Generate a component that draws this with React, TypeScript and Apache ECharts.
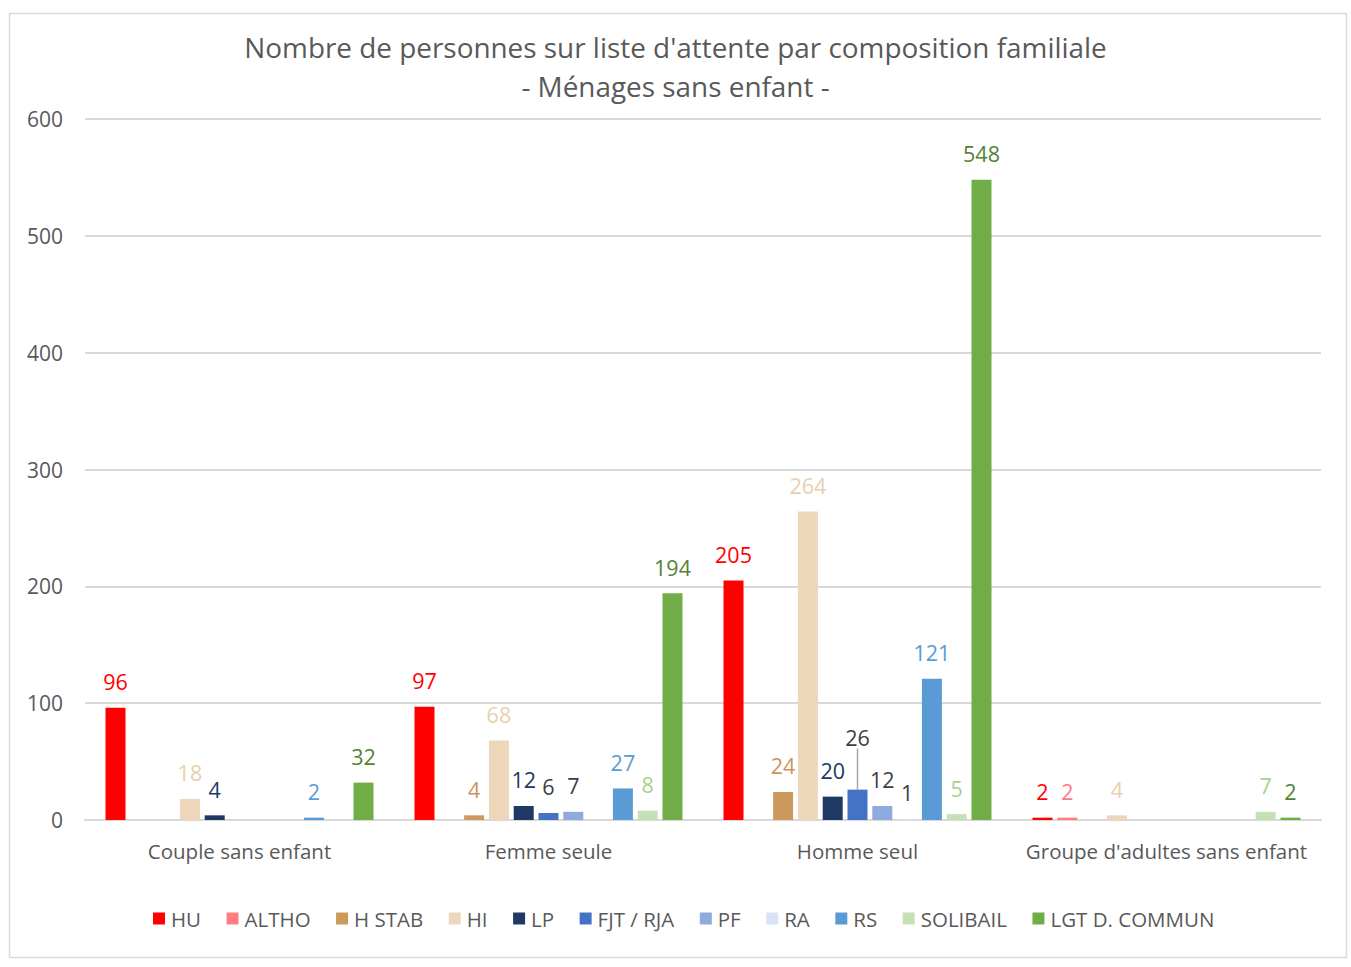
import React, { useEffect, useRef } from "react";
import * as echarts from "echarts";

const categories = ["Couple sans enfant", "Femme seule", "Homme seul", "Groupe d'adultes sans enfant"];
const seriesNames = ["HU", "ALTHO", "H STAB", "HI", "LP", "FJT / RJA", "PF", "RA", "RS", "SOLIBAIL", "LGT D. COMMUN"];
const HU = [96, 97, 205, 2];
const ALTHO = [null, null, null, 2];
const HSTAB = [null, 4, 24, null];
const HI = [18, 68, 264, 4];
const LP = [4, 12, 20, null];
const FJT = [null, 6, 26, null];
const PF = [null, 7, 12, null];
const RA = [null, null, 1, null];
const RS = [2, 27, 121, null];
const SOLIBAIL = [null, 8, 5, 7];
const LGT = [32, 194, 548, 2];
const seriesValues = [HU, ALTHO, HSTAB, HI, LP, FJT, PF, RA, RS, SOLIBAIL, LGT];
const barColors = ["#FF0000", "#FF7C80", "#CC9A5C", "#EDD6BA", "#203864", "#4472C4", "#8FAADC", "#DAE3F3", "#5B9BD5", "#C5E0B4", "#70AD47"];
const labelColors = ["#FF0000", "#FF7C80", "#C9965A", "#E9CFAE", "#203864", "#404040", "#404040", "#404040", "#5B9BD5", "#A9D18E", "#548235"];
const yTicks = { min: 0, max: 600, interval: 100 };

const FONT = "'Open Sans', sans-serif";

export default function App() {
  const ref = useRef<HTMLDivElement>(null);
  useEffect(() => {
    document.body.style.margin = "0";
    const chart = echarts.init(ref.current!, null, { renderer: "svg" });
    const series = seriesNames.map((name, i) => {
      const isFjt = name === "FJT / RJA";
      return {
        name,
        type: "bar",
        data: seriesValues[i].map((v, j) =>
          isFjt && j === 2
            ? { value: v, labelLine: { show: true, lineStyle: { color: "#A6A6A6", width: 1.5 } } }
            : v
        ),
        barWidth: 20,
        barGap: "24%",
        itemStyle: { color: barColors[i] },
        label: {
          show: true,
          position: "top",
          distance: 15,
          color: labelColors[i],
          fontSize: 21.5,
          fontFamily: FONT,
        },
        labelLayout: isFjt ? (p: any) => (p.dataIndex === 2 ? { dy: -26 } : {}) : undefined,
      };
    });
    chart.setOption({
      animation: false,
      backgroundColor: "#fff",
      textStyle: { fontFamily: FONT },
      title: {
        text: "Nombre de personnes sur liste d'attente par composition familiale\n- Ménages sans enfant -",
        left: "center",
        top: 22,
        textStyle: { fontSize: 27.9, fontWeight: "normal", color: "#595959", lineHeight: 39, fontFamily: FONT },
      },
      graphic: [
        {
          type: "rect",
          shape: { x: 9.5, y: 13.5, width: 1337, height: 944 },
          style: { fill: "none", stroke: "#D9D9D9", lineWidth: 1.5 },
          silent: true,
        },
      ],
      legend: {
        bottom: 33,
        left: 148,
        itemWidth: 12,
        itemHeight: 12,
        itemGap: 25.5,
        icon: "rect",
        textStyle: { fontSize: 20.5, color: "#595959", fontFamily: FONT, padding: [0, 0, 0, 1] },
        data: seriesNames,
      },
      grid: { left: 85, right: 30, top: 119, bottom: 147, containLabel: false },
      xAxis: {
        type: "category",
        data: categories,
        axisLine: { lineStyle: { color: "#D9D9D9", width: 2 } },
        axisTick: { show: false },
        axisLabel: { fontSize: 20.5, color: "#595959", margin: 20, fontFamily: FONT, interval: 0 },
      },
      yAxis: {
        type: "value",
        min: yTicks.min,
        max: yTicks.max,
        interval: yTicks.interval,
        axisLine: { show: false },
        axisTick: { show: false },
        axisLabel: { fontSize: 21, color: "#595959", margin: 22, fontFamily: FONT },
        splitLine: { lineStyle: { color: "#D9D9D9", width: 2 } },
      },
      series,
    });
    return () => chart.dispose();
  }, []);
  return <div ref={ref} style={{ width: 1351, height: 967 }} />;
}
